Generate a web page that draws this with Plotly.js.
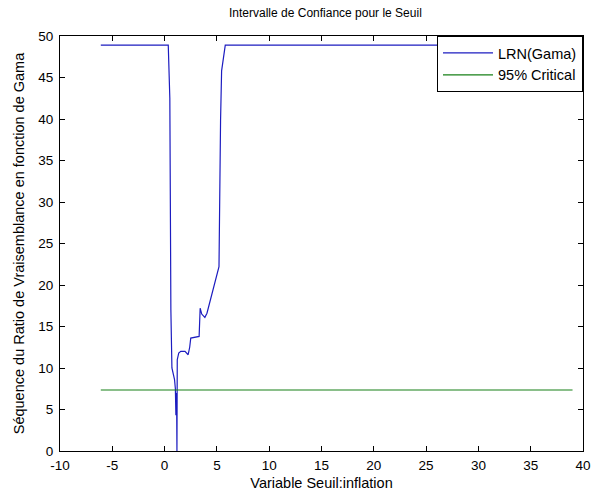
<!DOCTYPE html>
<html>
<head>
<meta charset="utf-8">
<script src="https://cdn.plot.ly/plotly-3.0.1.min.js"></script>
<style>html,body{margin:0;padding:0;background:#fff;}#chart{width:596px;height:493px;}</style>
</head>
<body>
<div id="chart"></div>
<script>
// Blue series: LRN(Gama) sequence
var lrnX = [-6.1, 0.35, 0.5, 0.6, 0.7, 0.85, 0.95, 1.03, 1.08, 1.12, 1.15, 1.18, 1.21, 1.35, 1.55, 1.95, 2.25, 2.4, 2.5, 3.3, 3.4, 3.55, 3.85, 4.05, 5.2, 5.35, 5.45, 5.8, 39];
var lrnY = [48.9, 48.9, 42.5, 17.0, 10.0, 9.2, 8.6, 7.5, 4.3, 7.0, 6.0, 0, 11.0, 11.8, 12.0, 12.0, 11.6, 12.5, 13.6, 13.8, 17.2, 16.5, 16.1, 16.6, 22.2, 39.8, 45.8, 48.9, 48.9];
// Green series: 95% critical value
var critX = [-6.1, 39];
var critY = [7.35, 7.35];
var seriesNames = ["LRN(Gama)", "95% Critical"];
var xTicks = [-10, -5, 0, 5, 10, 15, 20, 25, 30, 35, 40];
var yTicks = [0, 5, 10, 15, 20, 25, 30, 35, 40, 45, 50];

var fontFam = "Liberation Sans, Arial, Helvetica, sans-serif";
var traces = [
  {x: lrnX, y: lrnY, mode: "lines", name: seriesNames[0], line: {color: "#1c1cc0", width: 1.2}},
  {x: critX, y: critY, mode: "lines", name: seriesNames[1], line: {color: "#178017", width: 1.2}}
];
var axisCommon = {
  showline: true, linecolor: "#000", linewidth: 1, mirror: "ticks",
  ticks: "inside", ticklen: 5, tickcolor: "#000", showgrid: false, zeroline: false,
  tickfont: {family: fontFam, size: 13.5, color: "#000"}
};
var layout = {
  width: 596, height: 493,
  margin: {l: 60, r: 13, t: 36, b: 42},
  paper_bgcolor: "#fff", plot_bgcolor: "#fff",
  font: {family: fontFam, size: 13, color: "#000"},
  title: {text: "Intervalle de Confiance pour le Seuil", font: {family: fontFam, size: 12, color: "#000"}, x: 0.546, xanchor: "center", y: 0.975, yanchor: "middle"},
  xaxis: Object.assign({}, axisCommon, {range: [-10, 40], tickvals: xTicks, ticktext: xTicks.map(String), ticklabelstandoff: 2,
    title: {text: "Variable Seuil:inflation", font: {family: fontFam, size: 14.5, color: "#000"}, standoff: 5}}),
  yaxis: Object.assign({}, axisCommon, {range: [0, 50], tickvals: yTicks, ticktext: yTicks.map(String), ticklabelstandoff: 3,
    title: {text: "Séquence du Ratio de Vraisemblance en fonction de Gama", font: {family: fontFam, size: 14.5, color: "#000"}, standoff: 10}}),
  showlegend: true,
  legend: {x: 1, xanchor: "right", y: 1, yanchor: "top", bgcolor: "#fff", bordercolor: "#000", borderwidth: 1,
    font: {family: fontFam, size: 14.5, color: "#000"}, itemwidth: 50, tracegroupgap: 0}
};
Plotly.newPlot("chart", traces, layout, {displayModeBar: false, staticPlot: true});
</script>
</body>
</html>
